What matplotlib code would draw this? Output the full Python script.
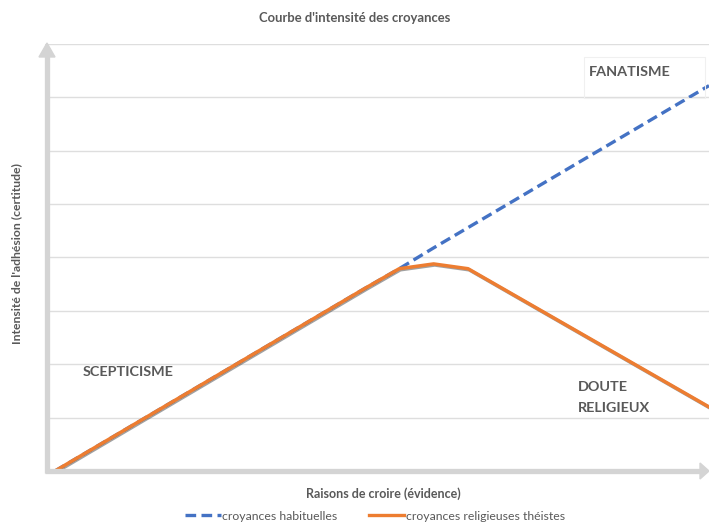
import matplotlib
matplotlib.use("Agg")
import matplotlib.pyplot as plt
import matplotlib.patheffects as pe
from matplotlib.lines import Line2D

plt.rcParams['font.family'] = ['Lato', 'DejaVu Sans']

evidence = list(range(20))
croyances_habituelles = [0, 3.8, 7.6, 11.4, 15.2, 19.0, 22.8, 26.6, 30.4, 34.2,
                         37.9, 41.8, 45.6, 49.4, 53.2, 57.0, 60.8, 64.6, 68.4, 72.2]
croyances_religieuses = [0, 3.8, 7.6, 11.4, 15.2, 19.0, 22.8, 26.6, 30.4, 34.2,
                         37.9, 38.8, 37.9, 34.2, 30.5, 26.8, 23.1, 19.4, 15.7, 12.0]

title = "Courbe d'intensité des croyances"
xlabel = "Raisons de croire (évidence)"
ylabel = "Intensité de l'adhésion (certitude)"
label_blue = "croyances habituelles"
label_orange = "croyances religieuses théistes"

W, H = 709, 522
fig = plt.figure(figsize=(W/100, H/100), dpi=100)
ax_l, ax_r, ax_b, ax_t = 45, 709, 471, 44
ax = fig.add_axes([ax_l/W, 1 - ax_b/H, (ax_r-ax_l)/W, (ax_b-ax_t)/H])
ax.set_xlim(-0.29, 19.0)
ax.set_ylim(0, 80)
for s in ax.spines.values():
    s.set_visible(False)
ax.set_xticks([])
ax.set_yticks([])
for y in range(10, 90, 10):
    ax.axhline(y, color='#dedede', lw=1.0, zorder=1)

blue = '#4472C4'
orange = '#ED7D31'
lb, = ax.plot(evidence, croyances_habituelles, color=blue, lw=2.4, zorder=3,
              solid_capstyle='butt', dash_capstyle='butt')
lb.set_dashes([3.2, 1.6])
lo, = ax.plot(evidence, croyances_religieuses, color=orange, lw=2.5, zorder=4,
              solid_joinstyle='round',
              path_effects=[pe.SimpleLineShadow(offset=(0.8, -0.8), alpha=0.5,
                                                shadow_color='#444444'),
                            pe.Normal()])

# axis arrows (figure pixel coordinates)
arrow_col = '#d4d4d4'
def fx(px): return px / W
def fy(py): return 1 - py / H
fig.add_artist(Line2D([fx(47), fx(47)], [fy(473), fy(56)], color=arrow_col, lw=3.8,
                      solid_capstyle='butt'))
fig.add_artist(plt.Polygon([[fx(39), fy(57)], [fx(55), fy(57)], [fx(47), fy(43)]],
                           closed=True, color=arrow_col, transform=fig.transFigure))
fig.add_artist(Line2D([fx(45), fx(700)], [fy(471), fy(471)], color=arrow_col, lw=3.8,
                      solid_capstyle='butt'))
fig.add_artist(plt.Polygon([[fx(700), fy(463)], [fx(700), fy(479)], [fx(709), fy(471)]],
                           closed=True, color=arrow_col, transform=fig.transFigure))

txt = '#595959'
fig.text(fx(355), fy(18), title, ha='center', va='center', fontsize=9.4,
         fontweight='bold', color=txt)
fig.text(fx(17), fy(253), ylabel, ha='center', va='center', rotation=90, fontsize=8.8,
         fontweight='bold', color=txt)
fig.text(fx(383), fy(494), xlabel, ha='center', va='center', fontsize=9.0,
         fontweight='bold', color=txt)

# annotations
fs_ann = 10.4
fig.text(fx(630), fy(72), "FANATISME", ha='center', va='center', fontsize=fs_ann,
         fontweight='bold', color=txt)
fig.add_artist(plt.Rectangle((fx(584), fy(98)), (705-584)/W, (98-57)/H, fill=False,
                             edgecolor='#f0f0f0', lw=0.8, transform=fig.transFigure))
fig.text(fx(83), fy(372), "SCEPTICISME", ha='left', va='center', fontsize=fs_ann,
         fontweight='bold', color=txt)
fig.text(fx(578), fy(387), "DOUTE", ha='left', va='center', fontsize=fs_ann,
         fontweight='bold', color=txt)
fig.text(fx(578), fy(408), "RELIGIEUX", ha='left', va='center', fontsize=fs_ann,
         fontweight='bold', color=txt)

h_blue = Line2D([], [], color=blue, lw=2.4, dashes=[3.2, 1.6])
h_or = Line2D([], [], color=orange, lw=2.4)
fig.legend([h_blue, h_or], [label_blue, label_orange], loc='center',
           bbox_to_anchor=(fx(375), fy(516)), ncol=2, frameon=False, fontsize=8.8,
           handlelength=2.9, handletextpad=0.1, columnspacing=2.6,
           labelcolor=txt, borderpad=0)

fig.savefig('out.png', dpi=100)
